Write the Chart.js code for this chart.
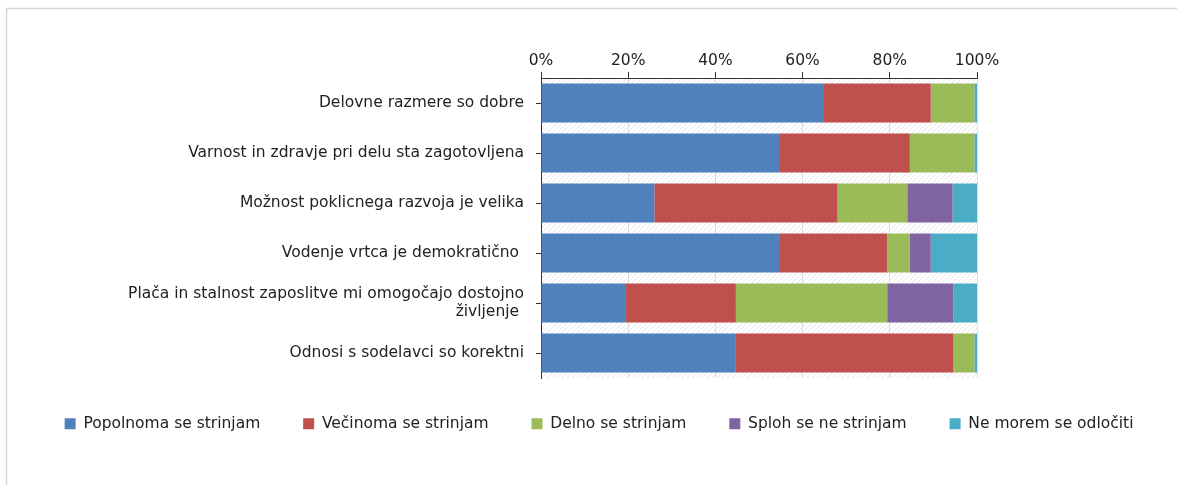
<!DOCTYPE html>
<html>
<head>
<meta charset="utf-8">
<script src="https://cdn.jsdelivr.net/npm/chart.js@4/dist/chart.umd.min.js"></script>
<style>
  body { margin: 0; background: #fff; }
</style>
</head>
<body>
<canvas id="graph1" width="1177" height="485"></canvas>
<script>
// Trditve (kategorije)
const categories = [
    'Delovne razmere so dobre',
    'Varnost in zdravje pri delu sta zagotovljena',
    'Možnost poklicnega razvoja je velika',
    'Vodenje vrtca je demokratično ',
    ['Plača in stalnost zaposlitve mi omogočajo dostojno', 'življenje '],
    'Odnosi s sodelavci so korektni'
];

// Deleži odgovorov (%)
const popolnoma = [64.7, 54.6, 26.0, 54.6, 19.5, 44.7];
const vecinoma  = [24.7, 30.0, 42.0, 24.8, 25.2, 49.9];
const delno     = [10.0, 14.8, 16.0, 5.2, 34.7, 4.8];
const sploh     = [0, 0, 10.4, 4.8, 15.2, 0];
const neMorem   = [0.6, 0.6, 5.6, 10.6, 5.4, 0.6];

const xTicks = [0, 20, 40, 60, 80, 100];

const FONT = 'DejaVu Sans';
const TEXT = '#222';

// ozadje: okvir + šrafura v območju grafa
const backgroundPlugin = {
    id: 'background',
    beforeDraw(chart) {
        const ctx = chart.ctx;
        const a = chart.chartArea;
        ctx.save();
        ctx.fillStyle = '#fff';
        ctx.fillRect(0, 0, chart.width, chart.height);
        ctx.strokeStyle = '#d6d6d6';
        ctx.lineWidth = 1.5;
        ctx.strokeRect(6.5, 8.5, 1400, 700);

        const p = document.createElement('canvas');
        p.width = 5; p.height = 5;
        const pc = p.getContext('2d');
        pc.strokeStyle = '#e6e6e6';
        pc.lineWidth = 1;
        pc.beginPath();
        pc.moveTo(0, 5); pc.lineTo(5, 0);
        pc.moveTo(-1, 1); pc.lineTo(1, -1);
        pc.moveTo(4, 6); pc.lineTo(6, 4);
        pc.stroke();
        ctx.fillStyle = ctx.createPattern(p, 'repeat');
        ctx.fillRect(a.left, a.top, a.right - a.left, a.bottom - a.top);
        ctx.restore();
    }
};

const data = {
    labels: categories,
    datasets: [
        { label: 'Popolnoma se strinjam', data: popolnoma, backgroundColor: '#4f81bd' },
        { label: 'Večinoma se strinjam', data: vecinoma, backgroundColor: '#c0504d' },
        { label: 'Delno se strinjam', data: delno, backgroundColor: '#9bbb59' },
        { label: 'Sploh se ne strinjam', data: sploh, backgroundColor: '#8064a2' },
        { label: 'Ne morem se odločiti', data: neMorem, backgroundColor: '#4bacc6' }
    ]
};

const config = {
    type: 'bar',
    data: data,
    options: {
        indexAxis: 'y',
        responsive: false,
        animation: false,
        datasets: {
            bar: {
                categoryPercentage: 1,
                barPercentage: 0.78,
                borderWidth: 0
            }
        },
        layout: {
            padding: { left: 26, right: 0, top: 0, bottom: 43.5 }
        },
        scales: {
            x: {
                position: 'top',
                stacked: true,
                min: 0,
                max: 100,
                afterBuildTicks(scale) {
                    scale.ticks = xTicks.map(v => ({ value: v }));
                },
                afterFit(scale) { scale.height = 78; },
                grid: {
                    color: '#dedede',
                    tickColor: '#333',
                    tickLength: 6
                },
                border: { color: '#333' },
                ticks: {
                    padding: 2,
                    color: TEXT,
                    font: { family: FONT, size: 15.5 },
                    callback: v => v + '%'
                }
            },
            y: {
                stacked: true,
                afterFit(scale) { scale.width = 515; },
                grid: {
                    drawOnChartArea: false,
                    offset: false,
                    tickColor: '#333',
                    tickLength: 5
                },
                border: { color: '#333' },
                ticks: {
                    padding: 12,
                    color: TEXT,
                    font: { family: FONT, size: 15.5, lineHeight: 1.2 }
                }
            },
            yR: {
                type: 'category',
                position: 'right',
                labels: [''],
                afterFit(scale) { scale.width = 200; },
                grid: { display: false },
                border: { display: false },
                ticks: { display: false }
            }
        },
        plugins: {
            legend: {
                position: 'bottom',
                labels: {
                    boxWidth: 11,
                    boxHeight: 11,
                    padding: 38,
                    color: TEXT,
                    font: { family: FONT, size: 15.5 },
                    generateLabels(chart) {
                        return Chart.defaults.plugins.legend.labels.generateLabels(chart)
                            .map(item => ({ ...item, text: item.text + ' ' }));
                    }
                }
            },
            tooltip: { enabled: false }
        }
    },
    plugins: [backgroundPlugin]
};

const chart = new Chart(document.getElementById('graph1'), config);
</script>
</body>
</html>
